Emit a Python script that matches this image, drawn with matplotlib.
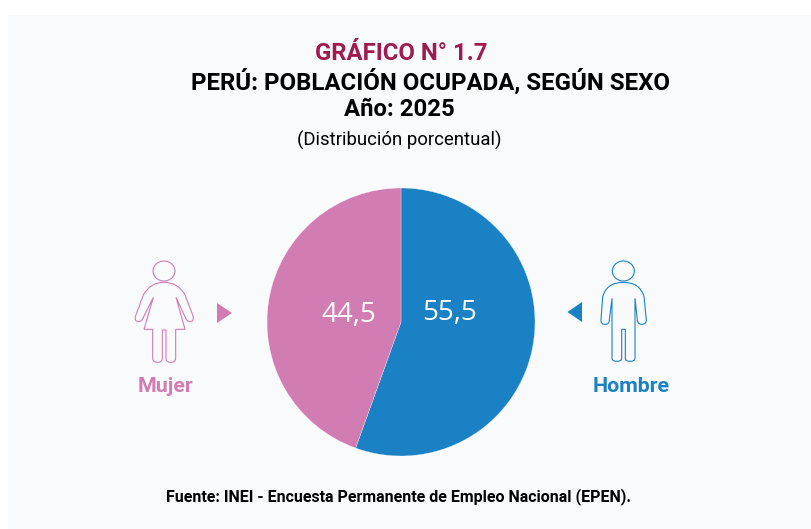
import matplotlib
matplotlib.use("Agg")
import matplotlib.pyplot as plt
from matplotlib.path import Path
from matplotlib.patches import PathPatch, Ellipse, Rectangle, Polygon

W, H = 811, 529
categories = ["Hombre", "Mujer"]
values = [55.5, 44.5]
value_labels = ["55,5", "44,5"]
colors = ["#1A82C4", "#D17DB3"]
PANEL = "#F9FAFC"

fig = plt.figure(figsize=(W / 100, H / 100), dpi=100, facecolor="white")
bg = fig.add_axes([0, 0, 1, 1])
bg.set_xlim(0, W)
bg.set_ylim(H, 0)
bg.axis("off")
bg.add_patch(Rectangle((8, 15), W - 8, H - 15, fc=PANEL, ec="none"))

# pie
cx, cy, r = 401, 322, 134
pie_ax = fig.add_axes([(cx - r) / W, 1 - (cy + r) / H, 2 * r / W, 2 * r / H])
pie_ax.pie(values, colors=colors, startangle=90, counterclock=False, radius=1,
           wedgeprops=dict(edgecolor="white", linewidth=0.2))
pie_ax.set_xlim(-1, 1)
pie_ax.set_ylim(-1, 1)
pie_ax.axis("off")

fg = fig.add_axes([0, 0, 1, 1])
fg.set_xlim(0, W)
fg.set_ylim(H, 0)
fg.axis("off")
fg.patch.set_alpha(0)


def T(x, y, s, size, color="black", weight="bold", family="Roboto"):
    fg.text(x, y, s, fontsize=size, color=color, fontweight=weight, family=family,
            ha="center", va="center")


T(401, 54, "GRÁFICO N° 1.7", 17.2, "#A01A50")
T(430.5, 82, "PERÚ: POBLACIÓN OCUPADA, SEGÚN SEXO", 17.25)
T(399, 110, "Año: 2025", 17.2)
T(399, 140, "(Distribución porcentual)", 13.4, weight="normal")
T(399, 497, "Fuente: INEI - Encuesta Permanente de Empleo Nacional (EPEN).", 11.5)
T(348.5, 315, value_labels[1], 20, "white", "normal", "Open Sans")
T(450, 313, value_labels[0], 20, "white", "normal", "Open Sans")
T(165.5, 386, categories[1], 15.4, colors[1])
T(631.5, 387, categories[0], 15.4, colors[0])

fg.add_patch(Polygon([(217, 303), (232, 313), (217, 323)], fc=colors[1], ec="none"))
fg.add_patch(Polygon([(582, 302), (567.5, 312), (582, 322)], fc=colors[0], ec="none"))


def icon(x0, y0, head, seq, color):
    """seq holds zoom-crop coordinates; (x, y, True) marks a curve control point."""
    conv = lambda p: (x0 + p[0] / 3, y0 + p[1] / 3)
    verts, codes = [], []
    for i, p in enumerate(seq):
        verts.append(conv(p))
        if i == 0:
            codes.append(Path.MOVETO)
        elif len(p) == 3 or len(seq[i - 1]) == 3:
            codes.append(Path.CURVE3)
        else:
            codes.append(Path.LINETO)
    fg.add_patch(PathPatch(Path(verts, codes), fc="none", ec=color, lw=0.8))
    hx, hy = conv(head)
    fg.add_patch(Ellipse((hx, hy), 22, 20, fc="none", ec=color, lw=0.8))


woman = [
    (162, 127), (205, 127, 1), (225, 165), (250, 230), (252, 245, 1), (240, 245),
    (230, 245, 1), (226, 232), (198, 172), (225, 268), (197, 268), (197, 355),
    (197, 367, 1), (182, 367), (168, 367, 1), (168, 355), (168, 270), (157, 270),
    (157, 355), (157, 367, 1), (143, 367), (128, 367, 1), (128, 355), (128, 268),
    (102, 268), (130, 172), (100, 232), (96, 245, 1), (85, 245), (74, 245, 1),
    (76, 230), (100, 165), (120, 127, 1), (162, 127),
]
man = [
    (220, 127), (270, 127, 1), (282, 170), (289, 240), (289, 253, 1), (276, 253),
    (263, 253, 1), (262, 240), (255, 175), (255, 355), (255, 364, 1), (240, 364),
    (226, 364, 1), (226, 355), (226, 268), (215, 268), (215, 355), (215, 364, 1),
    (201, 364), (186, 364, 1), (186, 355), (186, 175), (178, 240), (178, 253, 1),
    (165, 253), (152, 253, 1), (153, 240), (158, 170), (170, 127, 1), (220, 127),
]
icon(110, 240, (162, 93), woman, colors[1])
icon(550, 240, (220, 93), man, colors[0])

fig.savefig("out.png", dpi=100, facecolor="white")
